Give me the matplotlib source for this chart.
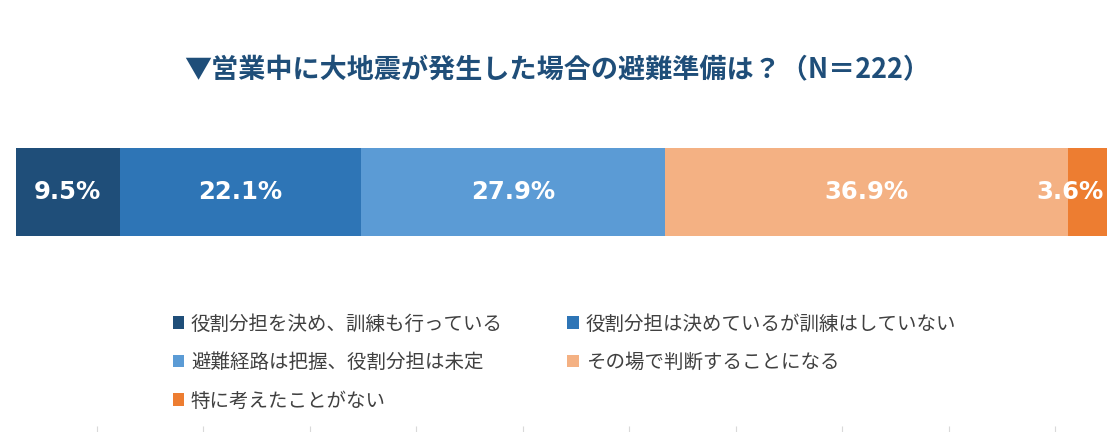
import matplotlib
matplotlib.use("Agg")
import matplotlib.pyplot as plt
from matplotlib.patches import Patch

plt.rcParams["font.family"] = ["Noto Sans CJK JP", "DejaVu Sans"]

title = "▼営業中に大地震が発生した場合の避難準備は？（N＝222）"
categories = [
    "役割分担を決め、訓練も行っている",
    "役割分担は決めているが訓練はしていない",
    "避難経路は把握、役割分担は未定",
    "その場で判断することになる",
    "特に考えたことがない",
]
values = [9.5, 22.1, 27.9, 36.9, 3.6]
colors = ["#1F4E79", "#2E75B6", "#5B9BD5", "#F4B183", "#ED7D31"]

W, H = 1120, 432
fig = plt.figure(figsize=(W / 100, H / 100), dpi=100)

# stacked bar
ax = fig.add_axes([16 / W, 1 - 236 / H, 1091 / W, 88 / H])
left = 0
for val, col in zip(values, colors):
    ax.barh(0, val, left=left, height=1, color=col, edgecolor="none")
    if val < 5:
        # too narrow: keep the label inside the chart, right aligned
        x, ha = left + val - 0.35, "right"
    else:
        x, ha = left + val / 2, "center"
    ax.text(x, 0, f"{val:.1f}%", ha=ha, va="center",
            color="white", fontsize=17.5, fontweight="bold",
            family="DejaVu Sans")
    left += val
ax.set_xlim(0, 100)
ax.set_ylim(-0.5, 0.5)
ax.axis("off")

fig.text(557 / W, 1 - 70 / H, title, ha="center", va="center",
         fontsize=19.5, fontweight="bold", color="#1F4E79")

# legend laid out row-wise in two columns
handles = [Patch(facecolor=c, edgecolor="none") for c in colors]
order = [0, 2, 4, 1, 3]
leg = fig.legend([handles[i] for i in order], [categories[i] for i in order],
                 ncol=2, loc="upper left", bbox_to_anchor=(155 / W, 1 - 296 / H),
                 frameon=False, fontsize=14, handlelength=0.6, handleheight=0.6,
                 handletextpad=0.35, columnspacing=3.3, labelspacing=0.9)
for t in leg.get_texts():
    t.set_color("#404040")

# faint ticks along the bottom edge
tax = fig.add_axes([97 / W, 0, (1055 - 97) / W, 0.001])
tax.set_xlim(0, 9)
tax.set_xticks(range(10))
tax.set_xticklabels([])
tax.set_yticks([])
for s in tax.spines.values():
    s.set_visible(False)
tax.tick_params(axis="x", direction="inout", length=8, color="#D9D9D9")
tax.patch.set_visible(False)

fig.savefig("out.png", dpi=100)
